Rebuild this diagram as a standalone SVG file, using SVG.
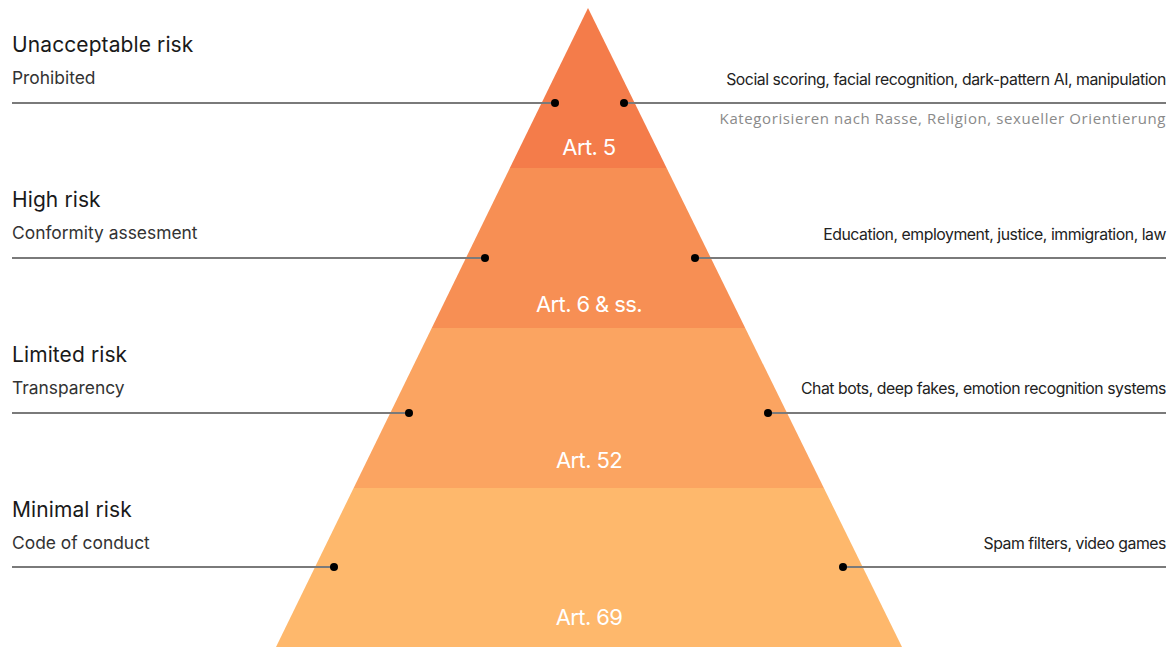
<svg xmlns="http://www.w3.org/2000/svg" width="1168" height="647" viewBox="0 0 1168 647">
  <style>
    .title { font-family: Inter, "Noto Sans", sans-serif; font-size: 21px; fill: #1a1a1a; letter-spacing: 0.1px; }
    .sub { font-family: Inter, "Noto Sans", sans-serif; font-size: 17.4px; fill: #333; }
    .ex { font-family: Inter, "Noto Sans", sans-serif; font-size: 15.8px; fill: #222; text-anchor: end; letter-spacing: -0.45px; }
    .ex2 { font-family: "Open Sans", "Noto Sans", sans-serif; font-size: 15px; fill: #8a8a8a; text-anchor: end; letter-spacing: 0.6px; }
    .art { font-family: Inter, "Noto Sans", sans-serif; font-size: 22px; fill: #ffffff; text-anchor: middle; letter-spacing: -0.6px; }
    .lead { stroke: #7a7a7a; stroke-width: 2; fill: none; }
    .dot { fill: #000; }
  </style>
  <defs>
    <clipPath id="pyr">
      <polygon points="588,8 902,647 276,647"/>
    </clipPath>
  </defs>

  <!-- pyramid bands -->
  <g id="pyramid" clip-path="url(#pyr)">
    <rect id="band-unacceptable" x="0" y="0" width="1168" height="168" fill="#F47C4A"/>
    <rect id="band-high" x="0" y="168" width="1168" height="160" fill="#F78F54"/>
    <rect id="band-limited" x="0" y="328" width="1168" height="160" fill="#FBA461"/>
    <rect id="band-minimal" x="0" y="488" width="1168" height="159" fill="#FEB86C"/>
  </g>

  <!-- leader lines -->
  <g id="connectors">
    <line class="lead" x1="12" y1="103" x2="555" y2="103"/>
    <line class="lead" x1="624" y1="103" x2="1166" y2="103"/>
    <line class="lead" x1="12" y1="258" x2="485" y2="258"/>
    <line class="lead" x1="695" y1="258" x2="1166" y2="258"/>
    <line class="lead" x1="12" y1="413" x2="409" y2="413"/>
    <line class="lead" x1="768" y1="413" x2="1166" y2="413"/>
    <line class="lead" x1="12" y1="567" x2="334" y2="567"/>
    <line class="lead" x1="843" y1="567" x2="1166" y2="567"/>
    <circle class="dot" cx="555" cy="103" r="4"/>
    <circle class="dot" cx="624" cy="103" r="4"/>
    <circle class="dot" cx="485" cy="258" r="4"/>
    <circle class="dot" cx="695" cy="258" r="4"/>
    <circle class="dot" cx="409" cy="413" r="4"/>
    <circle class="dot" cx="768" cy="413" r="4"/>
    <circle class="dot" cx="334" cy="567" r="4"/>
    <circle class="dot" cx="843" cy="567" r="4"/>
  </g>

  <g id="tier-unacceptable">
    <text class="title" x="12" y="52">Unacceptable risk</text>
    <text class="sub" x="12" y="84">Prohibited</text>
    <text class="ex" x="1166" y="85">Social scoring, facial recognition, dark-pattern AI, manipulation</text>
    <text class="ex2" x="1166" y="124">Kategorisieren nach Rasse, Religion, sexueller Orientierung</text>
    <text class="art" x="589" y="155">Art. 5</text>
  </g>

  <g id="tier-high">
    <text class="title" x="12" y="207">High risk</text>
    <text class="sub" x="12" y="239">Conformity assesment</text>
    <text class="ex" x="1166" y="240">Education, employment, justice, immigration, law</text>
    <text class="art" x="589" y="312">Art. 6 &amp; ss.</text>
  </g>

  <g id="tier-limited">
    <text class="title" x="12" y="362">Limited risk</text>
    <text class="sub" x="12" y="394">Transparency</text>
    <text class="ex" x="1166" y="394">Chat bots, deep fakes, emotion recognition systems</text>
    <text class="art" x="589" y="468">Art. 52</text>
  </g>

  <g id="tier-minimal">
    <text class="title" x="12" y="517">Minimal risk</text>
    <text class="sub" x="12" y="549">Code of conduct</text>
    <text class="ex" x="1166" y="549">Spam filters, video games</text>
    <text class="art" x="589" y="625">Art. 69</text>
  </g>
</svg>
